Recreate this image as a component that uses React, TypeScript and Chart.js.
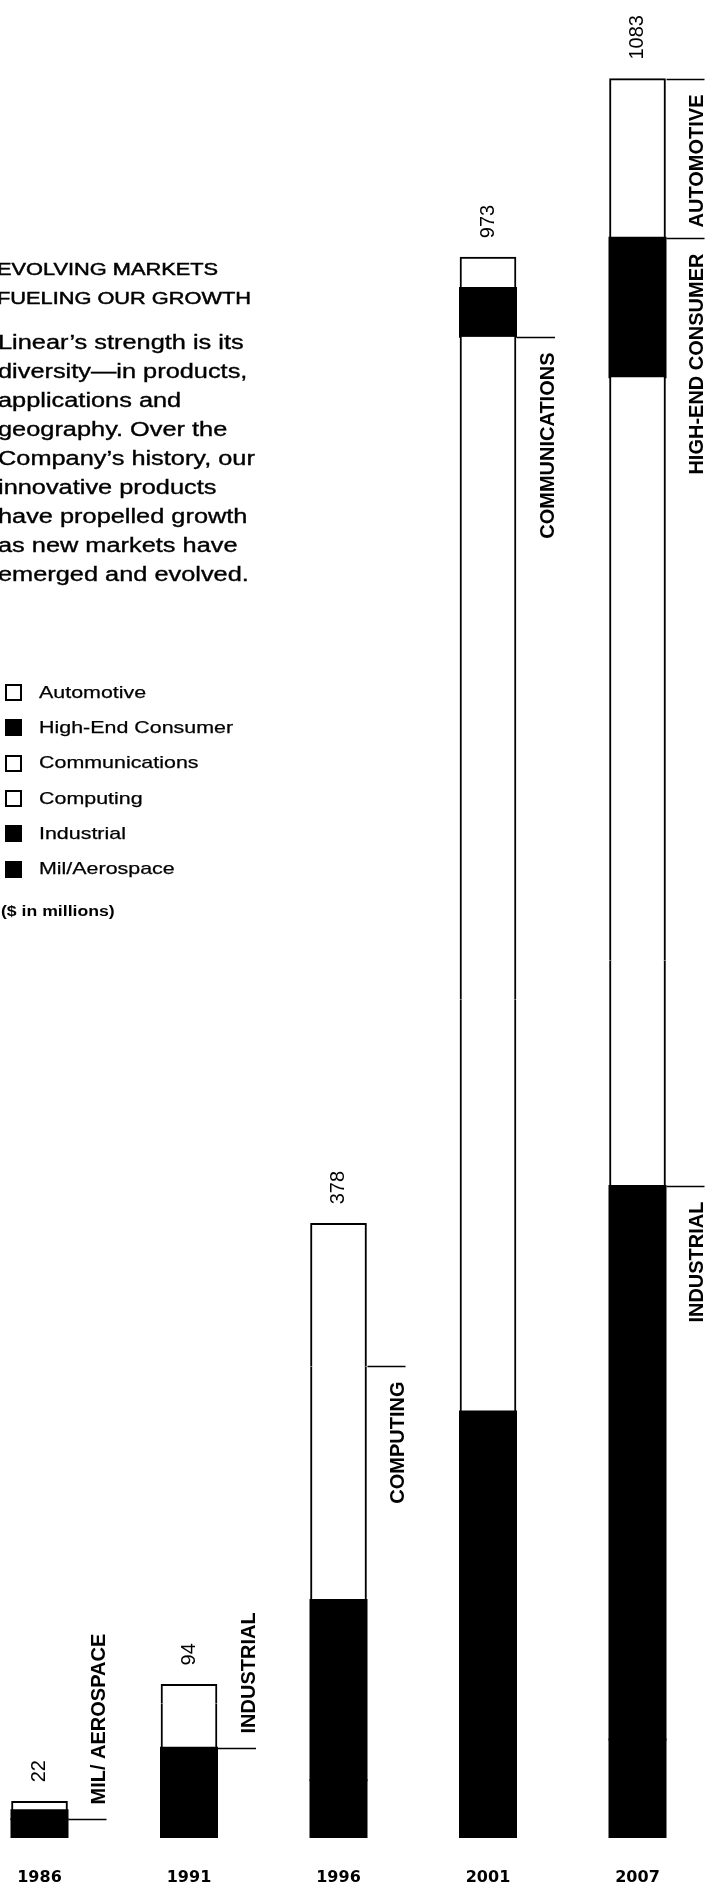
import React, { useEffect, useRef } from 'react';
import { Chart, registerables } from 'chart.js';

Chart.register(...registerables);

// ---- data ----
const years = ['1986', '1991', '1996', '2001', '2007'];
const totalLabels = ['22', '94', '378', '973', '1083'];

// stacked bottom -> top
const milAerospace = [11, 18, 35, 52, 60];
const industrial = [5.5, 37, 111, 210, 341];
const computing = [5.5, 27, 144, 254, 139];
const communications = [0, 12, 88, 408, 359];
const highEndConsumer = [0, 0, 0, 30, 86];
const automotive = [0, 0, 0, 19, 98];

const seriesNames = ['Mil/Aerospace', 'Industrial', 'Computing', 'Communications', 'High-End Consumer', 'Automotive'];
const seriesValues = [milAerospace, industrial, computing, communications, highEndConsumer, automotive];
const seriesFill = ['#000000', '#000000', '#ffffff', '#ffffff', '#000000', '#ffffff'];

// segment call-outs
const calloutTexts = ['MIL/ AEROSPACE', 'INDUSTRIAL', 'COMPUTING', 'COMMUNICATIONS', 'HIGH-END CONSUMER', 'AUTOMOTIVE', 'INDUSTRIAL'];
const calloutYears = [0, 1, 2, 3, 4, 4, 4];
const calloutSeries = [0, 1, 2, 3, 4, 5, 1];
const calloutSides = ['above', 'above', 'below', 'below', 'below', 'below', 'below'];

// text block
const titleLines = ['EVOLVING MARKETS', 'FUELING OUR GROWTH'];
const bodyLines = [
  'Linear\u2019s strength is its',
  'diversity\u2014in products,',
  'applications and',
  'geography. Over the',
  'Company\u2019s history, our',
  'innovative products',
  'have propelled growth',
  'as new markets have',
  'emerged and evolved.',
];
const unitNote = '($ in millions)';

const FONT = '"Liberation Sans", Arial, Helvetica, sans-serif';
const SX = 1.26;
const BAR_W = 56;

const annotatePlugin = {
  id: 'annotate',
  afterDatasetsDraw(chart: any) {
    const ctx = chart.ctx;
    const xs = chart.scales.x;
    const ys = chart.scales.y;
    const half = (BAR_W + 2) / 2;
    ctx.save();
    ctx.fillStyle = '#000';
    ctx.strokeStyle = '#000';

    // totals above bars
    ctx.font = `20px ${FONT}`;
    years.forEach((_, i) => {
      let sum = 0;
      seriesValues.forEach((s) => (sum += s[i]));
      const x = xs.getPixelForValue(i);
      const y = ys.getPixelForValue(sum);
      ctx.save();
      ctx.translate(x, y - 19);
      ctx.rotate(-Math.PI / 2);
      ctx.textAlign = 'left';
      ctx.textBaseline = 'middle';
      ctx.fillText(totalLabels[i], 0, 0);
      ctx.restore();
    });

    // call-outs
    ctx.font = `bold 20px ${FONT}`;
    ctx.lineWidth = 1.5;
    calloutTexts.forEach((t, k) => {
      const i = calloutYears[k];
      const s = calloutSeries[k];
      let cum = 0;
      for (let j = 0; j <= s; j++) cum += seriesValues[j][i];
      const xr = xs.getPixelForValue(i) + half;
      const y = Math.round(ys.getPixelForValue(cum)) + 0.5;
      ctx.beginPath();
      ctx.moveTo(xr, y);
      ctx.lineTo(xr + 38, y);
      ctx.stroke();
      const above = calloutSides[k] === 'above';
      ctx.save();
      ctx.translate(xr + 31, above ? y - 15 : y + 15);
      ctx.rotate(-Math.PI / 2);
      ctx.textAlign = above ? 'left' : 'right';
      ctx.textBaseline = 'middle';
      ctx.fillText(t, 0, 0);
      ctx.restore();
    });
    ctx.restore();
  },
};

function isTopSegment(k: number, i: number) {
  for (let j = k + 1; j < seriesValues.length; j++) {
    if (seriesValues[j][i] > 0) return false;
  }
  return true;
}

export default function App() {
  const canvasRef = useRef<HTMLCanvasElement | null>(null);

  useEffect(() => {
    if (!canvasRef.current) return;
    const chart = new Chart(canvasRef.current, {
      type: 'bar',
      data: {
        labels: years,
        datasets: seriesNames.map((name, k) => {
          const dark = seriesFill[k] === '#000000';
          return {
            label: name,
            data: seriesValues[k].map((v) => (v === 0 ? null : v)),
            backgroundColor: seriesFill[k],
            borderColor: '#000000',
            borderSkipped: false,
            barThickness: BAR_W,
            inflateAmount: dark ? 1 : 0.33,
            clip: false,
            borderWidth: (c: any) => {
              const i = c.dataIndex;
              if (!seriesValues[k][i] || dark) return 0;
              return { left: 2, right: 2, top: isTopSegment(k, i) ? 2 : 0, bottom: 0 };
            },
          };
        }) as any,
      },
      options: {
        responsive: false,
        maintainAspectRatio: false,
        animation: false,
        layout: { padding: { left: 39.5, right: 75.5, top: 51, bottom: 0 } },
        plugins: {
          legend: { display: false },
          tooltip: { enabled: false },
          title: { display: false },
        },
        scales: {
          x: {
            type: 'category',
            stacked: true,
            offset: false,
            grid: { display: false, drawTicks: true, tickLength: 28 },
            border: { display: false },
            ticks: {
              color: '#000',
              font: { family: '"DejaVu Sans", sans-serif', weight: 'bold', size: 16 },
              padding: 3,
              maxRotation: 0,
              autoSkip: false,
            },
            afterFit: (scale: any) => {
              scale.height = 48;
            },
          },
          y: {
            display: false,
            stacked: true,
            min: 0,
            max: 1100,
          },
        },
      } as any,
      plugins: [annotatePlugin],
    });
    return () => chart.destroy();
  }, []);

  const legendOrder = [...seriesNames.keys()].reverse();

  return (
    <div
      style={{
        position: 'absolute',
        left: 0,
        top: 0,
        width: 713,
        height: 1885,
        overflow: 'hidden',
        background: '#fff',
      }}
    >
      <canvas
        ref={canvasRef}
        width={713}
        height={1885}
        style={{ position: 'absolute', left: 0, top: 0, width: 713, height: 1885 }}
      />
      <div
        style={{
          position: 'absolute',
          left: -3,
          top: 255,
          fontFamily: FONT,
          fontSize: 17.3,
          lineHeight: '28.5px',
          color: '#000',
          whiteSpace: 'nowrap',
          transform: `scaleX(${SX})`,
          transformOrigin: '0 0',
          WebkitTextStroke: '0.5px #000',
        } as any}
      >
        {titleLines.map((l) => (
          <div key={l}>{l}</div>
        ))}
      </div>
      <div
        style={{
          position: 'absolute',
          left: -2,
          top: 328,
          fontFamily: FONT,
          fontSize: 19.5,
          lineHeight: '29px',
          color: '#000',
          whiteSpace: 'nowrap',
          transform: 'scaleX(1.3)',
          transformOrigin: '0 0',
          WebkitTextStroke: '0.35px #000',
        } as any}
      >
        {bodyLines.map((l) => (
          <div key={l}>{l}</div>
        ))}
      </div>
      <div style={{ position: 'absolute', left: 0, top: 675, fontFamily: FONT, fontSize: 17, color: '#000' }}>
        {legendOrder.map((k) => (
          <div key={seriesNames[k]} style={{ display: 'flex', alignItems: 'center', height: 35.3 }}>
            <div
              style={{
                marginLeft: 5,
                width: 17,
                height: 17,
                boxSizing: 'border-box',
                border: '2px solid #000',
                background: seriesFill[k],
                flex: '0 0 auto',
              }}
            />
            <span
              style={{
                display: 'inline-block',
                marginLeft: 17,
                whiteSpace: 'nowrap',
                transform: `scaleX(${SX})`,
                transformOrigin: '0 50%',
                WebkitTextStroke: '0.25px #000',
              } as any}
            >
              {seriesNames[k]}
            </span>
          </div>
        ))}
      </div>
      <div
        style={{
          position: 'absolute',
          left: 1,
          top: 901,
          fontFamily: FONT,
          fontSize: 14,
          fontWeight: 'bold',
          lineHeight: '20px',
          color: '#000',
          whiteSpace: 'nowrap',
          transform: `scaleX(${SX})`,
          transformOrigin: '0 0',
        }}
      >
        {unitNote}
      </div>
    </div>
  );
}
